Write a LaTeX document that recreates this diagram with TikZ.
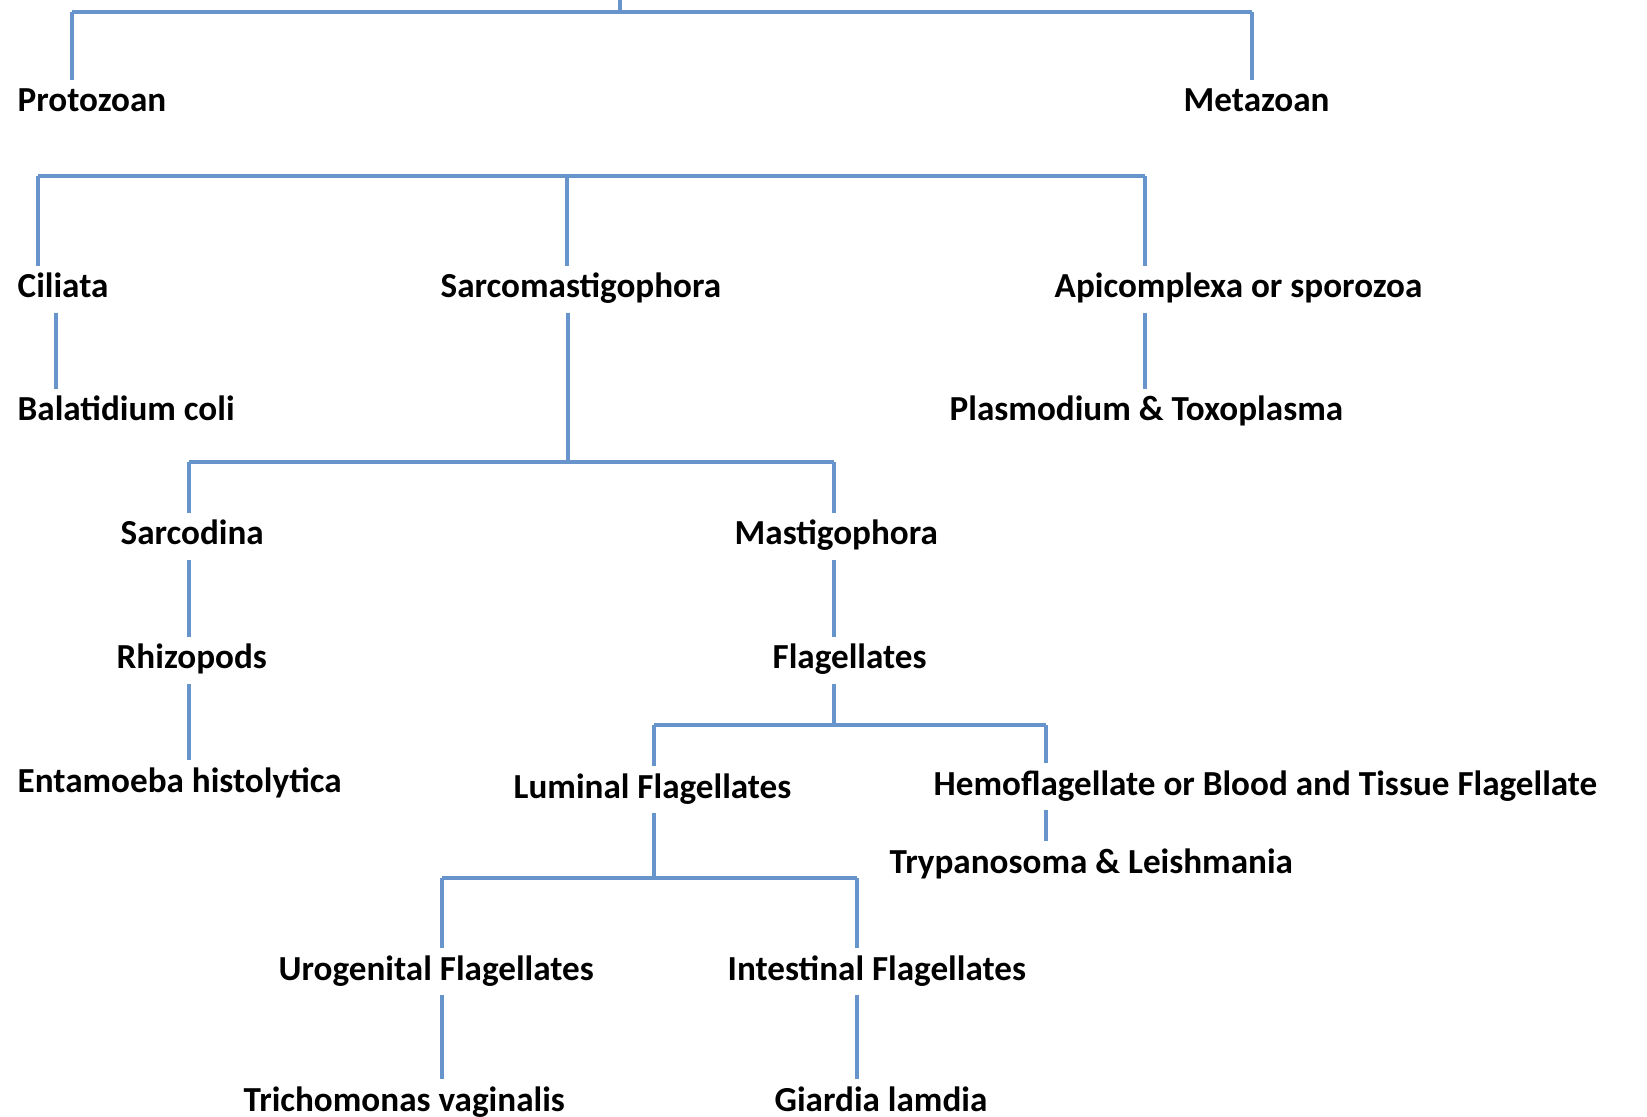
\documentclass[tikz,border=0pt]{standalone}
\usepackage{fontspec}
\setmainfont{Carlito}
\usetikzlibrary{positioning,calc}
\definecolor{branchblue}{RGB}{104,148,204}

\begin{document}
\begin{tikzpicture}[x=0.1mm, y=-0.1mm,
    taxon/.style={anchor=base west, inner xsep=0pt, inner ysep=2pt, text height=7pt, text depth=2pt, font=\fontsize{10}{12}\selectfont\bfseries},
    branch/.style={draw=branchblue, line width=1pt}]
  \useasboundingbox (0,0) rectangle (1647,1117);

  % taxa
  \node[taxon] (protozoan) at (17,112) {Protozoan};
  \node[taxon] (metazoan) at (1183,112) {Metazoan};
  \node[taxon] (ciliata) at (17,298) {Ciliata};
  \node[taxon] (sarco) at (440,298) {Sarcomastigophora};
  \node[taxon] (apicom) at (1054,298) {Apicomplexa or sporozoa};
  \node[taxon] (balat) at (17,421) {Balatidium coli};
  \node[taxon] (plasmo) at (949,421) {Plasmodium \& Toxoplasma};
  \node[taxon] (sarcodina) at (120,545) {Sarcodina};
  \node[taxon] (mastigo) at (734,545) {Mastigophora};
  \node[taxon] (rhizo) at (116,669) {Rhizopods};
  \node[taxon] (flag) at (772,669) {Flagellates};
  \node[taxon] (entamoeba) at (17,792) {Entamoeba histolytica};
  \node[taxon] (luminal) at (513,798) {Luminal Flagellates};
  \node[taxon] (hemo) at (933,795) {Hemoflagellate or Blood and Tissue Flagellate};
  \node[taxon] (tryp) at (889,873) {Trypanosoma \& Leishmania};
  \node[taxon] (uro) at (278,980) {Urogenital Flagellates};
  \node[taxon] (intest) at (727,980) {Intestinal Flagellates};
  \node[taxon] (tricho) at (243,1111) {Trichomonas vaginalis};
  \node[taxon] (giardia) at (774,1111) {Giardia lamdia};

  % junctions
  \coordinate (root) at (620,0);
  \coordinate (j0) at (620,12);
  \coordinate (j1a) at (72,12);
  \coordinate (j1b) at (1252,12);
  \coordinate (j2a) at (38,176);
  \coordinate (j2b) at (567,176);
  \coordinate (j2c) at (1145,176);
  \coordinate (xcil) at (56,0);
  \coordinate (j3) at (568,462);
  \coordinate (j3a) at (189,462);
  \coordinate (j3b) at (834,462);
  \coordinate (j4) at (834,725);
  \coordinate (j4a) at (654,725);
  \coordinate (j4b) at (1046,725);
  \coordinate (j5) at (654,878);
  \coordinate (j5a) at (442,878);
  \coordinate (j5b) at (857,878);

  \draw[branch] (root) -- (j0);
  \draw[branch] (j1a) -- (j1b);
  \draw[branch] (j1a) -- (j1a |- protozoan.north);
  \draw[branch] (j1b) -- (j1b |- metazoan.north);

  \draw[branch] (j2a) -- (j2c);
  \draw[branch] (j2a) -- (j2a |- ciliata.north);
  \draw[branch] (j2b) -- (j2b |- sarco.north);
  \draw[branch] (j2c) -- (j2c |- apicom.north);
  \draw[branch] (xcil |- ciliata.south) -- (xcil |- balat.north);
  \draw[branch] (j2c |- apicom.south) -- (j2c |- plasmo.north);

  \draw[branch] (j3 |- sarco.south) -- (j3);
  \draw[branch] (j3a) -- (j3b);
  \draw[branch] (j3a) -- (j3a |- sarcodina.north);
  \draw[branch] (j3b) -- (j3b |- mastigo.north);
  \draw[branch] (j3a |- sarcodina.south) -- (j3a |- rhizo.north);
  \draw[branch] (j3a |- rhizo.south) -- (j3a |- entamoeba.north);
  \draw[branch] (j3b |- mastigo.south) -- (j3b |- flag.north);

  \draw[branch] (j4 |- flag.south) -- (j4);
  \draw[branch] (j4a) -- (j4b);
  \draw[branch] (j4a) -- (j4a |- luminal.north);
  \draw[branch] (j4b) -- (j4b |- hemo.north);
  \draw[branch] (j4b |- hemo.south) -- (j4b |- tryp.north);

  \draw[branch] (j5 |- luminal.south) -- (j5);
  \draw[branch] (j5a) -- (j5b);
  \draw[branch] (j5a) -- (j5a |- uro.north);
  \draw[branch] (j5b) -- (j5b |- intest.north);
  \draw[branch] (j5a |- uro.south) -- (j5a |- tricho.north);
  \draw[branch] (j5b |- intest.south) -- (j5b |- giardia.north);
\end{tikzpicture}
\end{document}
